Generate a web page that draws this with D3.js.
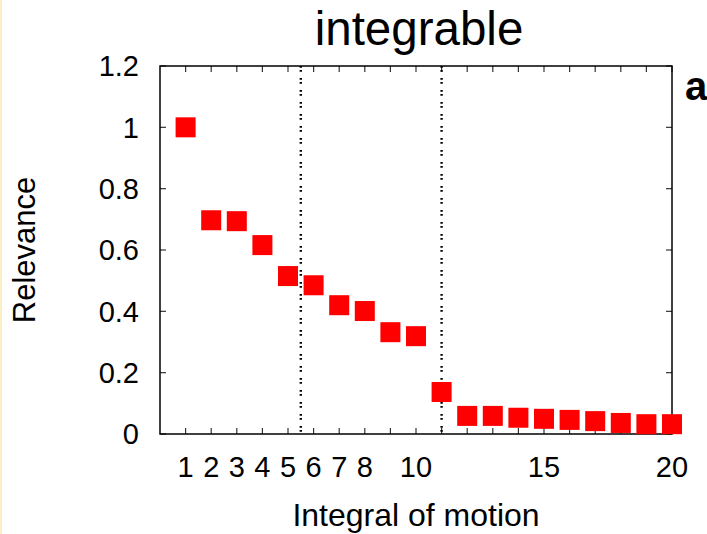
<!DOCTYPE html>
<html>
<head>
<meta charset="utf-8">
<script src="https://cdn.jsdelivr.net/npm/d3@7"></script>
<style>
  body { margin: 0; background: #fff; }
  text { font-family: "Liberation Sans", Arial, Helvetica, sans-serif; fill: #000; }
</style>
</head>
<body>
<svg width="707" height="534"></svg>
<script>
(() => {

    // integral index and its relevance
    const integrals = d3.range(1, 21);
    const relevance = [1.0, 0.697, 0.694, 0.616, 0.515, 0.485, 0.420, 0.401, 0.332, 0.319,
                       0.137, 0.059, 0.059, 0.053, 0.0495, 0.046, 0.042, 0.036, 0.032, 0.032];
    const xTickLabels = [1, 2, 3, 4, 5, 6, 7, 8, 10, 15, 20];
    const yTicks = [0, 0.2, 0.4, 0.6, 0.8, 1, 1.2];
    const separators = [5.5, 11];

    const svg = d3.select('svg'),
            width = +svg.attr('width'),
            height = +svg.attr('height');

    const margin = {left: 160, top: 66, right: 672, bottom: 434};

    const x = d3.scaleLinear().domain([0, 20]).range([margin.left, margin.right]);
    const y = d3.scaleLinear().domain([0, 1.2]).range([margin.bottom, margin.top]);

    // thin yellow strip at left edge
    svg.append('rect')
            .attr('x', 0).attr('y', 0)
            .attr('width', 2).attr('height', height)
            .attr('fill', '#fbefc4');

    // ticks, all pointing inward
    const tickLen = 6;
    const tickColor = '#333';
    const g = svg.append('g');

    g.selectAll('.xtb').data(integrals).enter().append('line')
            .attr('x1', d => x(d)).attr('x2', d => x(d))
            .attr('y1', y(0)).attr('y2', y(0) - tickLen)
            .attr('stroke', tickColor).attr('stroke-width', 1.2);
    g.selectAll('.xtt').data(integrals).enter().append('line')
            .attr('x1', d => x(d)).attr('x2', d => x(d))
            .attr('y1', y(1.2)).attr('y2', y(1.2) + tickLen)
            .attr('stroke', tickColor).attr('stroke-width', 1.2);
    g.selectAll('.ytl').data(yTicks).enter().append('line')
            .attr('x1', x(0)).attr('x2', x(0) + tickLen)
            .attr('y1', d => y(d)).attr('y2', d => y(d))
            .attr('stroke', tickColor).attr('stroke-width', 1.2);
    g.selectAll('.ytr').data(yTicks).enter().append('line')
            .attr('x1', x(20)).attr('x2', x(20) - tickLen)
            .attr('y1', d => y(d)).attr('y2', d => y(d))
            .attr('stroke', tickColor).attr('stroke-width', 1.2);

    // dotted separators
    svg.append('g').selectAll('line')
            .data(separators)
            .enter().append('line')
            .attr('x1', d => x(d)).attr('x2', d => x(d))
            .attr('y1', y(1.2)).attr('y2', y(0))
            .attr('stroke', '#000')
            .attr('stroke-width', 2.4)
            .attr('stroke-dasharray', '1.8 2.2 1.8 6.2');

    // frame
    svg.append('rect')
            .attr('x', x(0)).attr('y', y(1.2))
            .attr('width', x(20) - x(0)).attr('height', y(0) - y(1.2))
            .attr('fill', 'none')
            .attr('stroke', '#000')
            .attr('stroke-width', 1.5);

    // markers
    const size = 20;
    svg.append('g').selectAll('rect')
            .data(integrals)
            .enter().append('rect')
            .attr('x', d => x(d) - size / 2)
            .attr('y', (d, i) => y(relevance[i]) - size / 2)
            .attr('width', size).attr('height', size)
            .attr('fill', '#ff0000');

    // tick labels
    svg.append('g').selectAll('text')
            .data(yTicks)
            .enter().append('text')
            .attr('x', 139)
            .attr('y', d => y(d))
            .attr('dy', '0.36em')
            .attr('text-anchor', 'end')
            .attr('font-size', 29)
            .text(d => d3.format('')(d));

    svg.append('g').selectAll('text')
            .data(xTickLabels)
            .enter().append('text')
            .attr('x', d => x(d))
            .attr('y', 477)
            .attr('text-anchor', 'middle')
            .attr('font-size', 29)
            .text(d => d);

    // titles
    svg.append('text')
            .attr('x', 419).attr('y', 45)
            .attr('text-anchor', 'middle')
            .attr('font-size', 47.5)
            .text('integrable');

    svg.append('text')
            .attr('x', 416).attr('y', 526)
            .attr('text-anchor', 'middle')
            .attr('font-size', 32)
            .text('Integral of motion');

    svg.append('text')
            .attr('transform', 'translate(35,250) rotate(-90)')
            .attr('text-anchor', 'middle')
            .attr('font-size', 31)
            .text('Relevance');

    svg.append('text')
            .attr('x', 685).attr('y', 100)
            .attr('font-size', 40)
            .attr('font-weight', 'bold')
            .text('a');

})();
</script>
</body>
</html>
